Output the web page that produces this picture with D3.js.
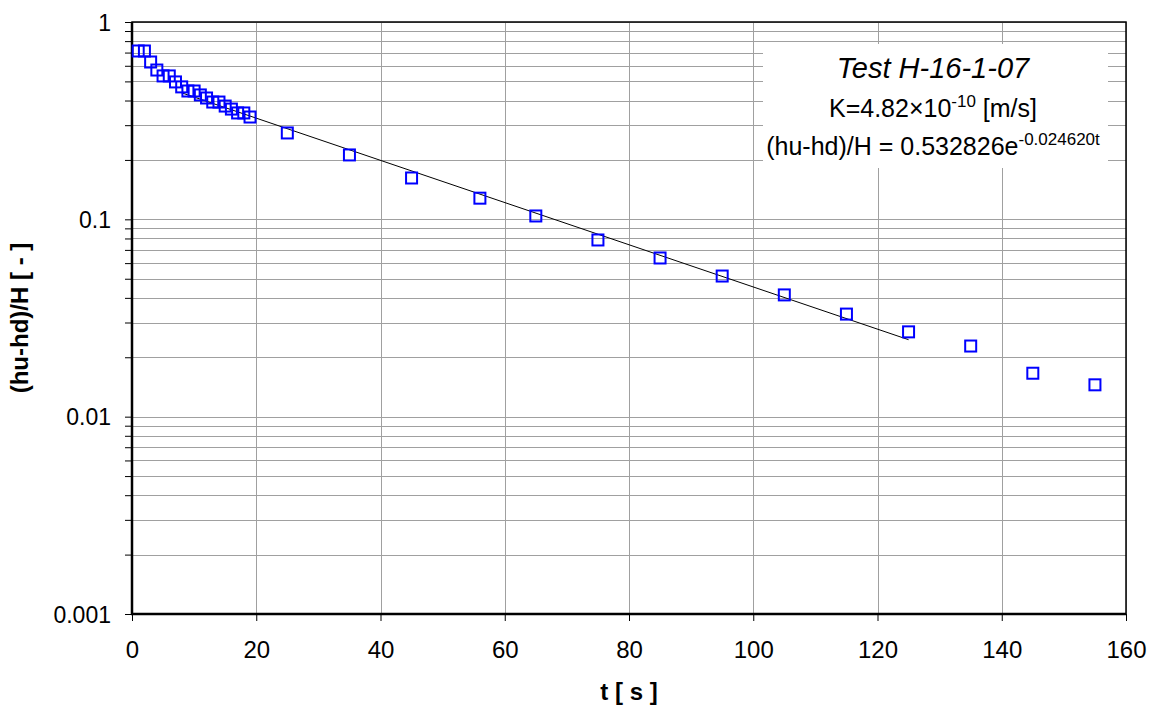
<!DOCTYPE html>
<html>
<head>
<meta charset="utf-8">
<script src="https://cdn.jsdelivr.net/npm/d3@7"></script>
<style>
  html, body { margin: 0; padding: 0; background: #fff; }
  svg { display: block; font-family: "Liberation Sans", Arial, sans-serif; }
</style>
</head>
<body>
<svg id="chart" width="1151" height="714"></svg>
<script>
// ---- data ----
const timeValues = [1,2,3,4,5,6,7,8,9,10,11,12,13,14,15,16,17,18,19,25,35,45,56,65,75,85,95,105,115,125,135,145,155];
const ratioValues = [0.713,0.713,0.627,0.571,0.533,0.533,0.497,0.469,0.447,0.447,0.427,0.412,0.393,0.393,0.375,0.362,0.346,0.346,0.330,
                     0.274,0.212,0.162,0.128,0.104,0.0786,0.0637,0.0516,0.0414,0.0331,0.0269,0.0228,0.0166,0.0145];
const xTickValues = [0,20,40,60,80,100,120,140,160];
const yMajorTicks = [0.001,0.01,0.1,1];
const yTickLabels = ["0.001","0.01","0.1","1"];
const fitCoef = 0.532826;
const fitRate = 0.024620;
const fitRange = [8,125];
const legendTitle = "Test H-16-1-07";
const xTitle = "t [ s ]";
const yTitle = "(hu-hd)/H [ - ]";

// ---- layout ----
const svg = d3.select("#chart");
const L = 132, R = 1126, T = 22, B = 614;
const x = d3.scaleLinear().domain([0,160]).range([L,R]);
const y = d3.scaleLog().domain([0.001,1]).range([B,T]);
const gridColor = "#a0a0a0";

// grid
const yAll = y.ticks();
svg.append("g").selectAll("line").data(yAll).join("line")
  .attr("x1", L).attr("x2", R)
  .attr("y1", d => Math.round(y(d)) + 0.5).attr("y2", d => Math.round(y(d)) + 0.5)
  .attr("stroke", gridColor).attr("stroke-width", 1);
svg.append("g").selectAll("line").data(xTickValues).join("line")
  .attr("x1", d => Math.round(x(d)) + 0.5).attr("x2", d => Math.round(x(d)) + 0.5)
  .attr("y1", T).attr("y2", B)
  .attr("stroke", gridColor).attr("stroke-width", 1);

// legend box
const lg = svg.append("g");
lg.append("rect").attr("x", 763).attr("y", 44).attr("width", 345).attr("height", 124).attr("fill", "#fff");

// frame
svg.append("rect").attr("x", L).attr("y", T).attr("width", R - L).attr("height", B - T)
  .attr("fill", "none").attr("stroke", "#000").attr("stroke-width", 1.5);

// axes
const yAxis = d3.axisLeft(y).tickValues(yAll).tickSize(7)
  .tickFormat(d => { const i = yMajorTicks.findIndex(m => Math.abs(m - d) / m < 1e-6); return i >= 0 ? yTickLabels[i] : ""; });
const gy = svg.append("g").attr("transform", `translate(${L},0)`).call(yAxis);
gy.select(".domain").remove();
gy.selectAll(".tick line").attr("stroke", "#000").attr("stroke-width", 1);
gy.selectAll(".tick text").attr("font-size", 23).attr("font-family", "Liberation Sans, Arial, sans-serif").attr("fill", "#000").attr("x", -21).attr("dy", "0.35em");

const xAxis = d3.axisBottom(x).tickValues(xTickValues).tickSize(7).tickFormat(d3.format("d"));
const gx = svg.append("g").attr("transform", `translate(0,${B})`).call(xAxis);
gx.select(".domain").remove();
gx.selectAll(".tick line").attr("stroke", "#000").attr("stroke-width", 1);
gx.selectAll(".tick text").attr("font-size", 24).attr("font-family", "Liberation Sans, Arial, sans-serif").attr("fill", "#000").attr("y", 27).attr("dy", "0.71em");

// thick axis lines
svg.append("line").attr("x1", L).attr("x2", L).attr("y1", T).attr("y2", B + 1).attr("stroke", "#000").attr("stroke-width", 2.5);
svg.append("line").attr("x1", L - 1).attr("x2", R).attr("y1", B).attr("y2", B).attr("stroke", "#000").attr("stroke-width", 2.5);

// fit line
const fitPts = fitRange.map(t => [t, fitCoef * Math.exp(-fitRate * t)]);
svg.append("path").datum(fitPts)
  .attr("d", d3.line().x(d => x(d[0])).y(d => y(d[1])))
  .attr("fill", "none").attr("stroke", "#000").attr("stroke-width", 1);

// markers
const pts = timeValues.map((t, i) => ({t, v: ratioValues[i]}));
const ms = 11;
svg.append("g").selectAll("rect").data(pts).join("rect")
  .attr("x", d => x(d.t) - ms / 2).attr("y", d => y(d.v) - ms / 2)
  .attr("width", ms).attr("height", ms)
  .attr("fill", "none").attr("stroke", "#0000ff").attr("stroke-width", 2);

// legend texts
const cx = 933;
lg.append("text").attr("x", cx).attr("y", 78).attr("text-anchor", "middle")
  .attr("font-size", 29).attr("font-style", "italic").text(legendTitle);
const k = lg.append("text").attr("x", cx).attr("y", 117).attr("text-anchor", "middle").attr("font-size", 25);
k.append("tspan").text("K=4.82×10");
k.append("tspan").attr("dy", -10).attr("font-size", 17).text("-10");
k.append("tspan").attr("dy", 10).text(" [m/s]");
const eq = lg.append("text").attr("x", cx).attr("y", 155).attr("text-anchor", "middle").attr("font-size", 25);
eq.append("tspan").text("(hu-hd)/H = 0.532826e");
eq.append("tspan").attr("dy", -10).attr("font-size", 17).text("-0.024620t");

// axis titles
svg.append("text").attr("x", (L + R) / 2).attr("y", 700).attr("text-anchor", "middle")
  .attr("font-size", 24).attr("font-weight", "bold").text(xTitle);
svg.append("text").attr("transform", `translate(28,${(T + B) / 2}) rotate(-90)`).attr("text-anchor", "middle")
  .attr("font-size", 24).attr("font-weight", "bold").text(yTitle);
</script>
</body>
</html>
